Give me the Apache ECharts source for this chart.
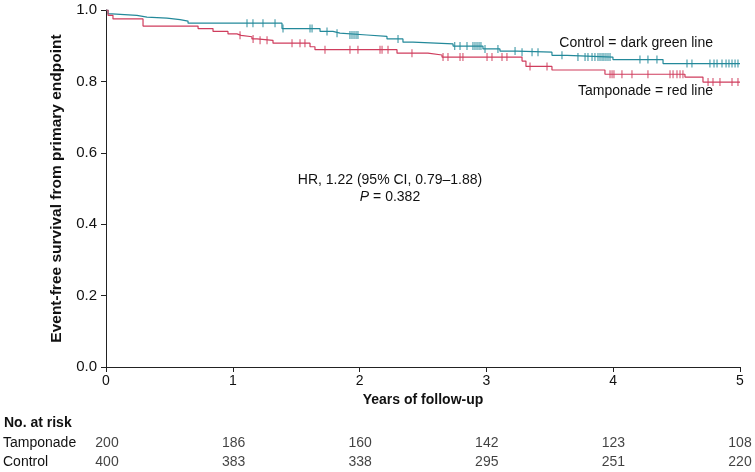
<!DOCTYPE html>
<html><head><meta charset="utf-8">
<script src="https://cdn.jsdelivr.net/npm/echarts@6/dist/echarts.min.js"></script>
<style>html,body{margin:0;padding:0;background:#fff}#c{width:755px;height:472px}</style>
</head><body><div id="c"></div>
<script>
// Kaplan–Meier step data (time in years, survival at/after time)
const controlTimes = [0, 0.016, 0.047, 0.244, 0.323, 0.481, 0.584, 0.647, 1.388, 1.688, 1.790, 1.845, 2.058, 2.216, 2.342, 2.421, 2.737, 2.973, 3.107, 3.241, 3.517, 3.636, 3.998, 4.393, 5.0];
const controlSurv  = [1.0, 0.989, 0.985, 0.980, 0.977, 0.973, 0.969, 0.963, 0.948, 0.940, 0.935, 0.930, 0.926, 0.919, 0.910, 0.905, 0.899, 0.891, 0.885, 0.882, 0.873, 0.868, 0.861, 0.850, 0.850];
const tampTimes = [0, 0.016, 0.055, 0.292, 0.726, 0.844, 0.962, 1.033, 1.065, 1.151, 1.191, 1.317, 1.609, 1.648, 2.295, 2.539, 2.650, 3.281, 3.312, 3.517, 3.935, 4.566, 4.708, 5.0];
const tampSurv  = [1.0, 0.985, 0.975, 0.955, 0.948, 0.940, 0.933, 0.929, 0.925, 0.919, 0.915, 0.907, 0.897, 0.889, 0.879, 0.874, 0.868, 0.857, 0.842, 0.832, 0.820, 0.812, 0.798, 0.798];
// censoring times
const controlCensor = [1.112, 1.159, 1.238, 1.333, 1.396, 1.609, 1.625, 1.743, 1.822, 1.924, 1.940, 1.956, 1.972, 1.987, 2.303, 2.75, 2.792, 2.847, 2.894, 2.910, 2.926, 2.942, 2.957, 2.989, 3.091, 3.226, 3.281, 3.360, 3.407, 3.596, 3.722, 3.778, 3.801, 3.833, 3.856, 3.880, 3.896, 3.912, 3.927, 3.943, 3.959, 3.975, 4.211, 4.274, 4.345, 4.582, 4.621, 4.763, 4.795, 4.819, 4.858, 4.890, 4.913, 4.937, 4.961, 4.984];
const tampCensor = [1.057, 1.160, 1.215, 1.270, 1.467, 1.530, 1.569, 1.727, 1.924, 1.987, 2.161, 2.177, 2.224, 2.413, 2.658, 2.697, 2.792, 2.815, 3.005, 3.044, 3.123, 3.162, 3.344, 3.478, 3.975, 3.991, 4.006, 4.069, 4.148, 4.274, 4.448, 4.472, 4.503, 4.527, 4.550, 4.748, 4.787, 4.842, 4.937, 4.984];
// number at risk
const riskTimes = [0, 1, 2, 3, 4, 5];
const riskTamponade = [200, 186, 160, 142, 123, 108];
const riskControl = [400, 383, 338, 295, 251, 220];
const groups = ['Tamponade', 'Control'];

const TEAL = '#23899a', RED = '#cf3d5d';
const FONT = '"Liberation Sans", Arial, Helvetica, sans-serif';

function survAt(times, surv, t) {
  let v = surv[0];
  for (let i = 0; i < times.length; i++) { if (times[i] <= t) v = surv[i]; }
  return v;
}
const zip = (a, b) => a.map((x, i) => [x, b[i]]);

const chart = echarts.init(document.getElementById('c'), null, {renderer: 'canvas'});
const axisCol = '#222';
chart.setOption({
  animation: false,
  textStyle: {fontFamily: FONT},
  grid: [
    {left: 106, right: 15, top: 10, height: 357},
    {left: 106, right: 15, top: 434, height: 40}
  ],
  xAxis: [
    {gridIndex: 0, type: 'value', min: 0, max: 5, interval: 1,
     name: 'Years of follow-up', nameLocation: 'middle', nameGap: 24,
     nameTextStyle: {fontSize: 14, fontWeight: 'bold', color: '#111', fontFamily: FONT},
     axisLine: {lineStyle: {color: axisCol, width: 1}},
     axisTick: {show: true, length: 5, lineStyle: {color: axisCol}},
     axisLabel: {fontSize: 14, color: '#111', margin: 7, fontFamily: FONT},
     splitLine: {show: false}},
    {gridIndex: 1, type: 'value', min: 0, max: 5, show: false}
  ],
  yAxis: [
    {gridIndex: 0, type: 'value', min: 0, max: 1, interval: 0.2,
     name: 'Event-free survival from primary endpoint', nameLocation: 'middle', nameGap: 41,
     nameTextStyle: {fontSize: 15.5, fontWeight: 'bold', color: '#111', fontFamily: FONT},
     axisLine: {show: true, lineStyle: {color: axisCol, width: 1}},
     axisTick: {show: true, length: 5, lineStyle: {color: axisCol}},
     axisLabel: {fontSize: 15, color: '#111', margin: 9, fontFamily: FONT, formatter: v => v.toFixed(1)},
     splitLine: {show: false}},
    {gridIndex: 1, type: 'category', data: groups, inverse: true,
     axisLine: {show: false}, axisTick: {show: false}, splitLine: {show: false},
     axisLabel: {fontSize: 14, color: '#111', align: 'left', margin: 104, fontFamily: FONT, interval: 0}}
  ],
  series: [
    {type: 'line', xAxisIndex: 0, yAxisIndex: 0, step: 'end', showSymbol: false,
     data: zip(controlTimes, controlSurv), lineStyle: {color: TEAL, width: 1.2}},
    {type: 'line', xAxisIndex: 0, yAxisIndex: 0, step: 'end', showSymbol: false,
     data: zip(tampTimes, tampSurv), lineStyle: {color: RED, width: 1.2}},
    {type: 'scatter', xAxisIndex: 0, yAxisIndex: 0, symbol: 'rect', symbolSize: [1.2, 8],
     itemStyle: {color: TEAL},
     data: controlCensor.map(t => [t, survAt(controlTimes, controlSurv, t)])},
    {type: 'scatter', xAxisIndex: 0, yAxisIndex: 0, symbol: 'rect', symbolSize: [1.2, 8],
     itemStyle: {color: RED},
     data: tampCensor.map(t => [t, survAt(tampTimes, tampSurv, t)])},
    {type: 'scatter', xAxisIndex: 1, yAxisIndex: 1, symbolSize: 0,
     label: {show: true, position: 'inside', fontSize: 14, color: '#111', fontFamily: FONT,
             formatter: p => String(p.value[2])},
     data: riskTimes.map((t, i) => [t, groups[0], riskTamponade[i]])
       .concat(riskTimes.map((t, i) => [t, groups[1], riskControl[i]]))}
  ],
  graphic: [
    {type: 'text', left: 4, top: 416, style: {text: 'No. at risk', font: 'bold 14px ' + FONT, fill: '#111'}},
    {type: 'text', x: 713, y: 43, style: {text: 'Control = dark green line', font: '14px ' + FONT, fill: '#111', textAlign: 'right', textVerticalAlign: 'middle'}},
    {type: 'text', x: 713, y: 91, style: {text: 'Tamponade = red line', font: '14px ' + FONT, fill: '#111', textAlign: 'right', textVerticalAlign: 'middle'}},
    {type: 'text', x: 390, y: 180, style: {text: 'HR, 1.22 (95% CI, 0.79\u20131.88)', font: '14px ' + FONT, fill: '#111', textAlign: 'center', textVerticalAlign: 'middle'}},
    {type: 'text', x: 390, y: 197, style: {text: '{i|P} = 0.382', font: '14px ' + FONT, fill: '#111', textAlign: 'center', textVerticalAlign: 'middle',
       rich: {i: {fontStyle: 'italic', fontSize: 14, fontFamily: FONT, fill: '#111'}}}}
  ]
});
</script></body></html>
